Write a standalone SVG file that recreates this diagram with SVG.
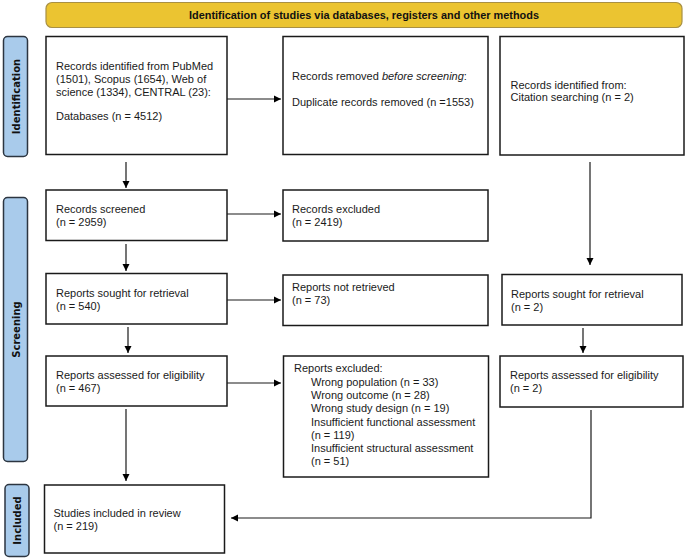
<svg xmlns="http://www.w3.org/2000/svg" width="685" height="560" viewBox="0 0 685 560">
<defs>
<marker id="ah" markerUnits="userSpaceOnUse" markerWidth="8" markerHeight="8" refX="7" refY="4" orient="auto">
<path d="M0,0.5 L7,4 L0,7.5 Z" fill="#000"/>
</marker>
<style>
.box{fill:#fff;stroke:#1a1a1a;stroke-width:1.5}
.tab{fill:#a9cbeb;stroke:#2c3540;stroke-width:1.5}
.t{font-family:"Liberation Sans",Arial,sans-serif;font-size:11px;fill:#1a1a1a}
.tl{font-family:"DejaVu Sans","Liberation Sans",sans-serif;font-size:10px;font-weight:bold;fill:#111}
.c{fill:none;stroke:#1a1a1a;stroke-width:1.2}
</style>
</defs>
<rect width="685" height="560" fill="#fff"/>
<g id="banner">
<rect x="46" y="2.5" width="636" height="25" rx="6" fill="#ebc431" stroke="#a89044" stroke-width="1.2"/>
<text x="364" y="19" text-anchor="middle" font-family="Liberation Sans, Arial, sans-serif" font-size="11" font-weight="bold" fill="#111" textLength="350" lengthAdjust="spacingAndGlyphs">Identification of studies via databases, registers and other methods</text>
</g>
<g id="tab-identification">
<rect class="tab" x="3.5" y="36.5" width="24" height="120" rx="4"/>
<text class="tl" transform="translate(19.5,96.5) rotate(-90)" text-anchor="middle">Identification</text>
</g>
<g id="tab-screening">
<rect class="tab" x="3.5" y="197.5" width="24" height="264" rx="4"/>
<text class="tl" transform="translate(19.5,329.5) rotate(-90)" text-anchor="middle">Screening</text>
</g>
<g id="tab-included">
<rect class="tab" x="5" y="484.5" width="24" height="72" rx="4"/>
<text class="tl" transform="translate(21,520.5) rotate(-90)" text-anchor="middle">Included</text>
</g>
<g id="records-identified">
<rect class="box" x="46" y="36.5" width="181" height="118"/>
<text class="t" x="56" y="70">Records identified from PubMed</text>
<text class="t" x="56" y="83">(1501), Scopus (1654), Web of</text>
<text class="t" x="56" y="96">science (1334), CENTRAL (23):</text>
<text class="t" x="56" y="120">Databases (n = 4512)</text>
</g>
<g id="records-removed">
<rect class="box" x="283" y="36.5" width="205" height="118"/>
<text class="t" x="292" y="80">Records removed <tspan font-style="italic">before screening</tspan>:</text>
<text class="t" x="292" y="106">Duplicate records removed (n =1553)</text>
</g>
<g id="citation-searching">
<rect class="box" x="500" y="36.5" width="184" height="118.5"/>
<text class="t" x="510.5" y="89">Records identified from:</text>
<text class="t" x="510.5" y="101">Citation searching (n = 2)</text>
</g>
<g id="records-screened">
<rect class="box" x="46" y="190" width="181" height="50.5"/>
<text class="t" x="56" y="213">Records screened</text>
<text class="t" x="56" y="226">(n = 2959)</text>
</g>
<g id="records-excluded">
<rect class="box" x="283" y="190" width="205" height="51"/>
<text class="t" x="292" y="213">Records excluded</text>
<text class="t" x="292" y="226">(n = 2419)</text>
</g>
<g id="reports-sought">
<rect class="box" x="46" y="273.5" width="181" height="50.5"/>
<text class="t" x="56" y="297">Reports sought for retrieval</text>
<text class="t" x="56" y="310">(n = 540)</text>
</g>
<g id="reports-not-retrieved">
<rect class="box" x="283" y="275" width="205" height="50.5"/>
<text class="t" x="292" y="291">Reports not retrieved</text>
<text class="t" x="292" y="304">(n = 73)</text>
</g>
<g id="reports-sought-citation">
<rect class="box" x="502" y="274.5" width="180" height="50.5"/>
<text class="t" x="511" y="298">Reports sought for retrieval</text>
<text class="t" x="511" y="311">(n = 2)</text>
</g>
<g id="reports-assessed">
<rect class="box" x="46" y="356" width="181" height="50"/>
<text class="t" x="56" y="379">Reports assessed for eligibility</text>
<text class="t" x="56" y="392">(n = 467)</text>
</g>
<g id="reports-excluded">
<rect class="box" x="283.5" y="356" width="205" height="121"/>
<text class="t" x="294" y="372">Reports excluded:</text>
<text class="t" x="311" y="386">Wrong population (n = 33)</text>
<text class="t" x="311" y="399">Wrong outcome (n = 28)</text>
<text class="t" x="311" y="412">Wrong study design (n = 19)</text>
<text class="t" x="311" y="425.5">Insufficient functional assessment</text>
<text class="t" x="311" y="439">(n = 119)</text>
<text class="t" x="311" y="452">Insufficient structural assessment</text>
<text class="t" x="311" y="465">(n = 51)</text>
</g>
<g id="reports-assessed-citation">
<rect class="box" x="500" y="356" width="183" height="51"/>
<text class="t" x="510" y="379">Reports assessed for eligibility</text>
<text class="t" x="510" y="392">(n = 2)</text>
</g>
<g id="studies-included">
<rect class="box" x="44.5" y="485" width="180" height="68"/>
<text class="t" x="53.5" y="517">Studies included in review</text>
<text class="t" x="53.5" y="530">(n = 219)</text>
</g>
<g id="connectors">
<line class="c" x1="227" y1="99" x2="281" y2="99" marker-end="url(#ah)"/>
<line class="c" x1="126" y1="162" x2="126" y2="188" marker-end="url(#ah)"/>
<line class="c" x1="227" y1="214" x2="281" y2="214" marker-end="url(#ah)"/>
<line class="c" x1="126" y1="244" x2="126" y2="271" marker-end="url(#ah)"/>
<line class="c" x1="227" y1="300" x2="281" y2="300" marker-end="url(#ah)"/>
<line class="c" x1="128" y1="327" x2="128" y2="353" marker-end="url(#ah)"/>
<line class="c" x1="227" y1="383" x2="281" y2="383" marker-end="url(#ah)"/>
<line class="c" x1="126" y1="409" x2="126" y2="481" marker-end="url(#ah)"/>
<line class="c" x1="590" y1="162" x2="590" y2="265" marker-end="url(#ah)"/>
<line class="c" x1="583" y1="328" x2="583" y2="353" marker-end="url(#ah)"/>
<polyline class="c" points="591,410 591,518 231,518" marker-end="url(#ah)"/>
</g>
</svg>
